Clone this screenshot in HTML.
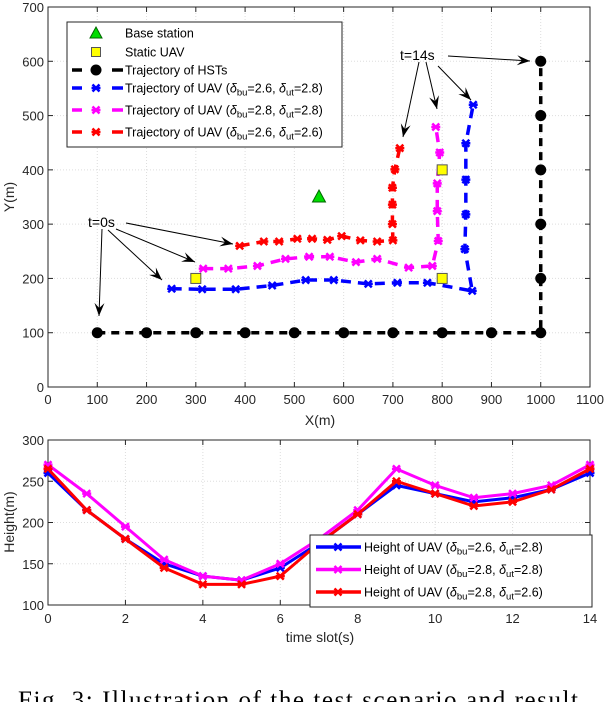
<!DOCTYPE html>
<html><head><meta charset="utf-8"><style>
body{margin:0;background:#fff;width:606px;height:702px;overflow:hidden}
svg{display:block;font-family:"Liberation Sans",sans-serif}
</style></head><body>
<svg id="c" width="606" height="702"></svg>
<script>
const hstX=[100,200,300,400,500,600,700,800,900,1000,1000,1000,1000,1000,1000];
const hstY=[100,100,100,100,100,100,100,100,100,100,200,300,400,500,600];
const blueX=[251,313,381,455,523,580,650,709,770,861,846,848,848,848,863];
const blueY=[181,180,180,187,197,197,190,192,192,177,254,318,382,449,520];
const magX=[315,366,425,482,530,572,625,668,732,780,792,790,790,795,787];
const magY=[218,218,223,236,240,240,230,236,220,223,269,324,375,432,479];
const redX=[389,438,469,506,536,567,596,634,668,700,699,699,699,704,714];
const redY=[260,268,268,273,273,271,278,270,268,270,300,336,367,401,440];
const staticX=[300,800,800], staticY=[200,200,400];
const baseX=[550], baseY=[350];
const xTicks=[0,100,200,300,400,500,600,700,800,900,1000,1100];
const yTicks=[0,100,200,300,400,500,600,700];
const slots=[0,1,2,3,4,5,6,7,8,9,10,11,12,13,14];
const hBlue=[260,215,180,150,135,130,145,175,210,245,235,225,230,240,260];
const hMag=[270,235,195,155,135,130,150,180,215,265,245,230,235,245,270];
const hRed=[265,215,180,145,125,125,135,175,210,250,235,220,225,240,265];
const tTicks=[0,2,4,6,8,10,12,14];
const hTicks=[100,150,200,250,300];

const S=document.getElementById('c'),NS='http://www.w3.org/2000/svg';
function el(t,a,p){const e=document.createElementNS(NS,t);for(const k in a)e.setAttribute(k,a[k]);(p||S).appendChild(e);return e;}
function txt(s,x,y,a,p){const e=el('text',Object.assign({x:x,y:y,'font-size':13,fill:'#262626'},a||{}),p);e.innerHTML=s;return e;}
const L=48,R=590,T=7,B=387;
const sx=v=>L+(v-0)/1100*(R-L), sy=v=>B-(v/700)*(B-T);
const topG=el('g',{});


el('rect',{x:L,y:T,width:R-L,height:B-T,fill:'#fff',stroke:'none'},topG);
xTicks.forEach(v=>{if(v>0&&v<1100)el('line',{x1:sx(v),x2:sx(v),y1:T,y2:B,stroke:'#ddd','stroke-dasharray':'1,2'},topG);
 el('line',{x1:sx(v),x2:sx(v),y1:B,y2:B-5,stroke:'#262626'},topG);el('line',{x1:sx(v),x2:sx(v),y1:T,y2:T+5,stroke:'#262626'},topG);
 txt(v,sx(v),404,{'text-anchor':'middle'},topG);});
yTicks.forEach(v=>{if(v>0&&v<700)el('line',{x1:L,x2:R,y1:sy(v),y2:sy(v),stroke:'#ddd','stroke-dasharray':'1,2'},topG);
 el('line',{x1:L,x2:L+5,y1:sy(v),y2:sy(v),stroke:'#262626'},topG);el('line',{x1:R,x2:R-5,y1:sy(v),y2:sy(v),stroke:'#262626'},topG);
 txt(v,L-4,sy(v)+5,{'text-anchor':'end'},topG);});
el('rect',{x:L,y:T,width:R-L,height:B-T,fill:'none',stroke:'#262626'},topG);
const xl=txt('X(m)',320,425,{'text-anchor':'middle','font-size':14},topG);


const yl=txt('Y(m)',0,0,{'text-anchor':'middle','font-size':14,transform:'translate(14,197) rotate(-90)'},topG);



function cross(g,x,y,c,r){el('path',{d:`M${x-r},${y-r}L${x+r},${y+r}M${x-r},${y+r}L${x+r},${y-r}M${x-r-1},${y}L${x+r+1},${y}`,stroke:c,'stroke-width':2.5},g);}
function series(X,Y,fx,fy,c,dash,name,mk){const g=el('g',{});
 
 
 el('polyline',{points:X.map((v,i)=>fx(v)+','+fy(Y[i])).join(' '),fill:'none',stroke:c,'stroke-width':dash?3.5:3,'stroke-dasharray':dash||'none'},g);
 X.forEach((v,i)=>mk(g,fx(v),fy(Y[i])));return g;}
series(hstX,hstY,sx,sy,'#000','8,6','hst-trajectory',(g,x,y)=>el('circle',{cx:x,cy:y,r:5.5,fill:'#000'},g));
series(blueX,blueY,sx,sy,'#0000ff','10,7','uav-trajectory-blue',(g,x,y)=>cross(g,x,y,'#0000ff',3.5));
series(magX,magY,sx,sy,'#ff00ff','10,7','uav-trajectory-magenta',(g,x,y)=>cross(g,x,y,'#ff00ff',3.5));
series(redX,redY,sx,sy,'#ff0000','10,7','uav-trajectory-red',(g,x,y)=>cross(g,x,y,'#ff0000',3.5));
staticX.forEach((v,i)=>{const r=el('rect',{x:sx(v)-5,y:sy(staticY[i])-5,width:10,height:10,fill:'#ffff00',stroke:'#555'});
 
 });
baseX.forEach((v,i)=>{const x=sx(v),y=sy(baseY[i]);const p=el('path',{d:`M${x},${y-7}L${x+6.5},${y+5}L${x-6.5},${y+5}Z`,fill:'#00dd00',stroke:'#006600'});
 
 });
function arrow(x1,y1,x2,y2){const g=el('g',{});
 
 
 el('line',{x1:x1,y1:y1,x2:x2,y2:y2,stroke:'#000','stroke-width':1},g);const a=Math.atan2(y2-y1,x2-x1),l=13,w=5;
 const bx=x2-l*Math.cos(a),by=y2-l*Math.sin(a);
 el('path',{d:`M${x2},${y2}L${bx+w*Math.sin(a)},${by-w*Math.cos(a)}L${x2-8*Math.cos(a)},${y2-8*Math.sin(a)}L${bx-w*Math.sin(a)},${by+w*Math.cos(a)}Z`,fill:'#000'},g);}
txt('t=0s',88,227,{'font-size':14,fill:'#000'});
arrow(126,223,233,244);arrow(116,229,195,262);arrow(108,230,162,280);arrow(102,229,99,316);
txt('t=14s',400,60,{'font-size':14,fill:'#000'});
arrow(448,56,530,61);arrow(419,62,403,137);arrow(426,62,437,109);arrow(438,66,471,100);
const lg=el('g',{});


el('rect',{x:67,y:22,width:275,height:125,fill:'#fff',stroke:'#262626'},lg);
const rows=[['tri','Base station'],['sq','Static UAV'],['hst','Trajectory of HSTs'],['#0000ff','2.6','2.8'],['#ff00ff','2.8','2.8'],['#ff0000','2.6','2.6']];
const rowY=[33,52,70,88,110,132];
rows.forEach((r,i)=>{const y=rowY[i],cx=96;
 if(r[0]=='tri')el('path',{d:`M${cx},${y-6}L${cx+6},${y+5}L${cx-6},${y+5}Z`,fill:'#00dd00',stroke:'#006600'},lg);
 else if(r[0]=='sq')el('rect',{x:cx-4.5,y:y-4.5,width:9,height:9,fill:'#ffff00',stroke:'#555'},lg);
 else {const c=r[0]=='hst'?'#000':r[0];
  el('line',{x1:72,x2:82,y1:y,y2:y,stroke:c,'stroke-width':3.5},lg);el('line',{x1:112,x2:123,y1:y,y2:y,stroke:c,'stroke-width':3.5},lg);
  if(r[0]=='hst')el('circle',{cx:cx,cy:y,r:5.5},lg);else cross(lg,cx,y,c,3.5);}
 const lab=r.length==2?r[1]:`Trajectory of UAV (<tspan font-style="italic">δ</tspan><tspan font-size="9.5" dy="3">bu</tspan><tspan dy="-3">=${r[1]}, </tspan><tspan font-style="italic">δ</tspan><tspan font-size="9.5" dy="3">ut</tspan><tspan dy="-3">=${r[2]})</tspan>`;
 txt(lab,125,y+4.5,{'font-size':12.5,fill:'#000'},lg);});
const L2=48,R2=590,T2=440,B2=605;
const tx=v=>L2+v/14*(R2-L2), hy=v=>B2-(v-100)/200*(B2-T2);
const bot=el('g',{});


tTicks.forEach(v=>{if(v>0&&v<14)el('line',{x1:tx(v),x2:tx(v),y1:T2,y2:B2,stroke:'#ddd','stroke-dasharray':'1,2'},bot);
 el('line',{x1:tx(v),x2:tx(v),y1:B2,y2:B2-5,stroke:'#262626'},bot);el('line',{x1:tx(v),x2:tx(v),y1:T2,y2:T2+5,stroke:'#262626'},bot);
 txt(v,tx(v),623,{'text-anchor':'middle'},bot);});
hTicks.forEach(v=>{if(v>100&&v<300)el('line',{x1:L2,x2:R2,y1:hy(v),y2:hy(v),stroke:'#ddd','stroke-dasharray':'1,2'},bot);
 el('line',{x1:L2,x2:L2+5,y1:hy(v),y2:hy(v),stroke:'#262626'},bot);el('line',{x1:R2,x2:R2-5,y1:hy(v),y2:hy(v),stroke:'#262626'},bot);
 txt(v,L2-4,hy(v)+5,{'text-anchor':'end'},bot);});
el('rect',{x:L2,y:T2,width:R2-L2,height:B2-T2,fill:'none',stroke:'#262626'},bot);
const tl=txt('time slot(s)',320,642,{'text-anchor':'middle','font-size':14},bot);


const hl=txt('Height(m)',0,0,{'text-anchor':'middle','font-size':14,transform:'translate(14,522) rotate(-90)'},bot);


series(slots,hBlue,tx,hy,'#0000ff','','height-blue',(g,x,y)=>cross(g,x,y,'#0000ff',3.5));
series(slots,hMag,tx,hy,'#ff00ff','','height-magenta',(g,x,y)=>cross(g,x,y,'#ff00ff',3.5));
series(slots,hRed,tx,hy,'#ff0000','','height-red',(g,x,y)=>cross(g,x,y,'#ff0000',3.5));
const lg2=el('g',{});


el('rect',{x:310,y:535,width:282,height:72,fill:'#fff',stroke:'#262626'},lg2);
[['#0000ff','2.6','2.8'],['#ff00ff','2.8','2.8'],['#ff0000','2.8','2.6']].forEach((r,i)=>{const y=547+i*22.5;
 el('line',{x1:316,x2:361,y1:y,y2:y,stroke:r[0],'stroke-width':3.5},lg2);cross(lg2,338,y,r[0],3.5);
 txt(`Height of UAV (<tspan font-style="italic">δ</tspan><tspan font-size="9.5" dy="3">bu</tspan><tspan dy="-3">=${r[1]}, </tspan><tspan font-style="italic">δ</tspan><tspan font-size="9.5" dy="3">ut</tspan><tspan dy="-3">=${r[2]})</tspan>`,364,y+4.5,{'font-size':12.5,fill:'#000'},lg2);});
const cap=txt('Fig. 3: Illustration of the test scenario and result',18,708,{'font-size':25,fill:'#000','font-family':'Liberation Serif,serif',textLength:560,lengthAdjust:'spacing'});


</script>
</body></html>
